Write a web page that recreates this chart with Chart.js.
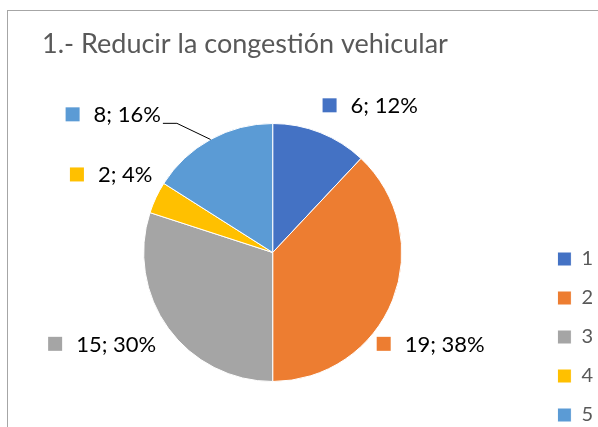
<!DOCTYPE html>
<html>
<head>
<meta charset="utf-8">
<script src="https://cdn.jsdelivr.net/npm/chart.js@4"></script>
<style>
  html, body { margin: 0; padding: 0; background: #fff; }
</style>
</head>
<body>
<canvas id="myChart" width="598" height="427"></canvas>
<script>
// data
var categories = ['1', '2', '3', '4', '5'];
var values = [6, 19, 15, 2, 8];
var colors = ['#4472C4', '#ED7D31', '#A5A5A5', '#FFC000', '#5B9BD5'];
var title = '1.- Reducir la congestión vehicular';

// frame + title, drawn under the chart
var framePlugin = {
  id: 'frame',
  beforeDraw: function(chart) {
    var ctx = chart.ctx;
    ctx.save();
    ctx.strokeStyle = '#a6a6a6';
    ctx.lineWidth = 1;
    ctx.strokeRect(7.5, 10.5, 700, 700);
    ctx.fillStyle = '#595959';
    ctx.font = '27px Lato';
    ctx.textBaseline = 'alphabetic';
    ctx.fillText(title, 42, 53);
    ctx.restore();
  }
};

// "value; percent" labels with a colour square, like Excel
var labelPlugin = {
  id: 'sliceLabels',
  afterDatasetsDraw: function(chart, args, opts) {
    var ctx = chart.ctx;
    var meta = chart.getDatasetMeta(0);
    var data = chart.data.datasets[0].data;
    var total = data.reduce(function(a, b) { return a + b; }, 0);
    ctx.save();
    ctx.font = opts.font;
    meta.data.forEach(function(arc, i) {
      var r = arc.outerRadius;
      var pos = opts.positions[i];
      var cx = arc.x + pos[0] * r;
      var cy = arc.y + pos[1] * r;
      var txt = data[i] + '; ' + Math.round(data[i] / total * 100) + '%';
      var tw = ctx.measureText(txt).width;
      var w = opts.box + opts.gap + tw;
      var x0 = cx - w / 2;
      ctx.fillStyle = colors[i];
      ctx.fillRect(x0, cy - opts.box / 2, opts.box, opts.box);
      ctx.fillStyle = '#000';
      ctx.textBaseline = 'alphabetic';
      ctx.fillText(txt, x0 + opts.box + opts.gap, cy + 8);

      if (i === opts.leader) {
        var mid = (arc.startAngle + arc.endAngle) / 2;
        var ex = arc.x + Math.cos(mid) * r;
        var ey = arc.y + Math.sin(mid) * r;
        var sx = x0 + w + 2;
        var sy = cy + 9;
        ctx.strokeStyle = '#000';
        ctx.lineWidth = 1;
        ctx.beginPath();
        ctx.moveTo(sx, sy);
        ctx.lineTo(sx + 14, sy);
        ctx.lineTo(ex, ey);
        ctx.stroke();
      }
    });
    ctx.restore();
  }
};

var ctx = document.getElementById('myChart').getContext('2d');
var chart = new Chart(ctx, {
  type: 'pie',
  data: {
    labels: categories,
    datasets: [{
      data: values,
      backgroundColor: colors,
      borderColor: '#ffffff',
      borderWidth: 1,
      radius: 129
    }]
  },
  options: {
    responsive: false,
    animation: false,
    layout: { padding: { left: 7, right: -5, top: 78, bottom: -17 } },
    plugins: {
      legend: {
        position: 'right',
        align: 'end',
        labels: {
          boxWidth: 14,
          boxHeight: 14,
          padding: 19,
          color: '#595959',
          font: { family: 'Lato', size: 20 }
        }
      },
      tooltip: { enabled: false },
      sliceLabels: {
        font: '22px Lato',
        box: 14,
        gap: 14,
        leader: 4,
        positions: [
          [0.756, -1.141],
          [1.225, 0.708],
          [-1.322, 0.708],
          [-1.252, -0.605],
          [-1.236, -1.071]
        ]
      }
    }
  },
  plugins: [framePlugin, labelPlugin]
});
</script>
</body>
</html>
